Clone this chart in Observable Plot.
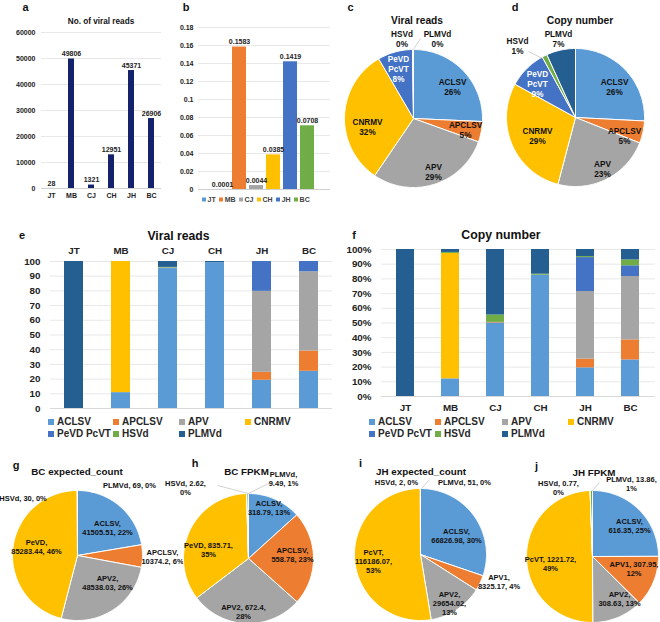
<!DOCTYPE html>
<html><head><meta charset="utf-8">
<script src="https://cdn.jsdelivr.net/npm/d3@7"></script>
<script src="https://cdn.jsdelivr.net/npm/@observablehq/plot@0.6"></script>
<style>
html,body{margin:0;padding:0;background:#fff;}
#fig{position:relative;width:660px;height:622px;overflow:hidden;background:#fff;font-family:"Liberation Sans",Arial,Helvetica,sans-serif;font-weight:bold;color:#111;}
.t{position:absolute;transform:translate(-50%,-50%);white-space:pre;line-height:1;}
.lg{position:absolute;display:flex;align-items:center;white-space:pre;line-height:1;transform:translateY(-50%);}
.sw{display:inline-block;}
</style></head><body><div id="fig"></div>
<script>
// ---------------- data ----------------
const samples = ["JT","MB","CJ","CH","JH","BC"];
const viralReads = [28, 49806, 1321, 12951, 45371, 26906];
const viralShare = [0.0001, 0.1583, 0.0044, 0.0385, 0.1419, 0.0708];
const sampleColors = ["#5b9bd5","#ed7d31","#a5a5a5","#ffc000","#4472c4","#70ad47"];

const viruses = ["ACLSV","APCLSV","APV","CNRMV","PeVD PcVT","HSVd","PLMVd"];
const virusColors = ["#5b9bd5","#ed7d31","#a5a5a5","#ffc000","#4472c4","#70ad47","#255e91"];
const readsPieShare = [25.7, 4.8, 29.0, 32.1, 8.2, 0.1, 0.1];
const copyPieShare = [25.8, 5.2, 23.1, 28.9, 9.0, 1.2, 6.8];

// stacked percentages, one row per virus (order of `viruses`), one column per sample
const readsStack = [
  [0, 10.8, 95.2, 99.2, 19.2, 25.3],
  [0, 0, 0, 0, 5.4, 13.8],
  [0, 0, 0.4, 0, 55.1, 53.9],
  [0, 89.2, 0, 0, 0, 0],
  [0, 0, 0, 0, 20.3, 7.0],
  [0, 0, 0.4, 0, 0, 0],
  [100, 0, 4.0, 0.8, 0, 0]
];
const copyStack = [
  [0, 12.0, 50.0, 82.5, 19.5, 24.9],
  [0, 0, 0.4, 0, 5.9, 13.6],
  [0, 0, 0, 0, 46.0, 43.1],
  [0, 85.3, 0, 0, 0, 0],
  [0, 0, 0, 0, 23.1, 7.3],
  [0, 0.7, 5.0, 0.7, 0.7, 4.0],
  [100, 2.0, 44.6, 16.8, 4.8, 7.1]
];

const pieColors = ["#5b9bd5","#ed7d31","#a5a5a5","#ffc000","#4472c4","#70ad47"];
const bcNames = ["ACLSV","APCLSV","APV2","PeVD","HSVd","PLMVd"];
const bcCountValues = [41505.51, 10374.2, 48538.03, 85283.44, 30, 69];
const bcCountPct = [22, 6, 26, 46, 0, 0];
const bcFpkmValues = [318.79, 558.78, 672.4, 835.71, 2.62, 9.49];
const bcFpkmPct = [13, 23, 28, 35, 0, 1];
const jhNames = ["ACLSV","APV1","APV2","PcVT","HSVd","PLMVd"];
const jhCountValues = [66826.98, 8325.17, 29654.02, 116186.07, 2, 51];
const jhCountPct = [30, 4, 13, 53, 0, 0];
const jhFpkmValues = [616.35, 307.95, 308.63, 1221.72, 0.77, 13.86];
const jhFpkmPct = [25, 12, 13, 49, 0, 1];

// ---------------- helpers ----------------
const FONT = '"Liberation Sans", Arial, Helvetica, sans-serif';
const fig = document.getElementById("fig");
function baseStyle(fs){ return {background:"transparent", overflow:"visible", fontFamily:FONT, fontSize:fs+"px", fontWeight:"bold", color:"#222"}; }
function place(el, left, top){ el.style.position="absolute"; el.style.left=left+"px"; el.style.top=top+"px"; fig.appendChild(el); return el; }
function txt(s, x, y, size){ const d=document.createElement("div"); d.className="t"; d.textContent=s; d.style.left=x+"px"; d.style.top=y+"px"; d.style.fontSize=size+"px"; fig.appendChild(d); }
function legendItem(name, color, x, y, fs, sq){
  const d=document.createElement("div"); d.className="lg"; d.style.left=x+"px"; d.style.top=y+"px"; d.style.fontSize=fs+"px"; d.style.color="#262626";
  const s=document.createElement("span"); s.className="sw"; s.style.width=sq+"px"; s.style.height=sq+"px"; s.style.background=color; s.style.marginRight=(sq*0.5)+"px";
  d.appendChild(s); d.appendChild(document.createTextNode(name)); fig.appendChild(d); return d;
}

// ---------------- panel a ----------------
const aData = samples.map((s,i)=>({sample:s, value:viralReads[i]}));
place(Plot.plot({
  width:170, height:210, marginLeft:41, marginRight:9, marginTop:32, marginBottom:22,
  style: baseStyle(7),
  x:{domain:samples, paddingInner:0.7, paddingOuter:0.35, label:null, tickSize:0, tickPadding:5},
  y:{domain:[0,60000], ticks:d3.range(0,60001,10000), tickFormat:d3.format("d"), grid:true, label:null, tickSize:0, tickPadding:6},
  marks:[
    Plot.ruleY([0],{stroke:"#d0d0d0"}),
    Plot.barY(aData,{x:"sample", y:"value", fill:"#13226b"}),
    Plot.text(aData,{x:"sample", y:"value", text:d=>String(d.value), dy:-5, fontSize:7, fontWeight:"bold", fill:"#222"})
  ]
}), 0, 0);

// ---------------- panel b ----------------
const bData = samples.map((s,i)=>({sample:s, value:viralShare[i]}));
place(Plot.plot({
  width:165, height:210, marginLeft:28, marginRight:5, marginTop:27, marginBottom:21,
  style: baseStyle(7),
  x:{domain:samples, axis:null, paddingInner:0.2, paddingOuter:0.85},
  y:{domain:[0,0.18], ticks:d3.range(10).map(i=>i*0.02), tickFormat:d=>d===0?"0":String(+d.toFixed(2)), grid:true, label:null, tickSize:0, tickPadding:5},
  color:{domain:samples, range:sampleColors},
  marks:[
    Plot.ruleY([0],{stroke:"#d0d0d0"}),
    Plot.barY(bData,{x:"sample", y:"value", fill:"sample"}),
    Plot.text(bData,{x:"sample", y:"value", text:d=>d3.format(".4f")(d.value), dy:-5, fontSize:7, fontWeight:"bold", fill:"#222"})
  ]
}), 170, 0);
{
  const d=document.createElement("div"); d.style.cssText="position:absolute;left:202px;top:199px;transform:translateY(-50%);display:flex;gap:3.5px;font-size:7px;color:#404040;line-height:1;";
  samples.forEach((s,i)=>{ const it=document.createElement("span"); it.style.cssText="display:flex;align-items:center;";
    const sq=document.createElement("span"); sq.style.cssText=`display:inline-block;width:4px;height:4px;margin-right:1.5px;background:${sampleColors[i]}`;
    it.appendChild(sq); it.appendChild(document.createTextNode(s)); d.appendChild(it); });
  fig.appendChild(d);
}

// ---------------- pies ----------------
function pie({cx, cy, r, names, values, colors, labels, leaders, fontSize}){
  const pad = 95;
  const total = d3.sum(values);
  const pts = [];
  let acc = 0;
  names.forEach((n,i)=>{
    const a0 = acc/total*2*Math.PI; acc += values[i]; const a1 = acc/total*2*Math.PI;
    const steps = Math.max(2, Math.ceil((a1-a0)/(Math.PI/180)));
    pts.push({name:n, x:0, y:0});
    for(let k=0;k<=steps;k++){ const a=a0+(a1-a0)*k/steps; pts.push({name:n, x:Math.sin(a), y:Math.cos(a)}); }
    pts.push({name:n, x:0, y:0});
  });
  const lab = labels.map(l=>({text:l.text, x:l.ox/r, y:-l.oy/r, color:l.color||"#111"}));
  const lead = (leaders||[]).map(([x1,y1,x2,y2])=>({x1:x1/r, y1:-y1/r, x2:x2/r, y2:-y2/r}));
  const w = 2*r+2*pad;
  place(Plot.plot({
    width:w, height:w, margin:0,
    style: baseStyle(fontSize),
    x:{domain:[-1,1], range:[pad, pad+2*r], axis:null},
    y:{domain:[-1,1], range:[pad+2*r, pad], axis:null},
    color:{domain:names, range:colors},
    marks:[
      Plot.line(pts,{x:"x", y:"y", z:"name", fill:"name", stroke:"white", strokeWidth:1, strokeLinejoin:"round"}),
      Plot.link(lead,{x1:"x1", y1:"y1", x2:"x2", y2:"y2", stroke:"#bfbfbf", strokeWidth:0.7}),
      Plot.text(lab,{x:"x", y:"y", text:"text", fill:"color", fontSize, fontWeight:"bold", lineAnchor:"middle", lineHeight:1.2})
    ]
  }), cx-r-pad, cy-r-pad);
}
function pctLabel(name, v, total){ return name.replace(" ","\n")+"\n"+Math.round(v/total*100)+"%"; }

// panel c
{
  const off = [[39,-32],[52,11.5],[20,53.5],[-46,8],[-15,-49.5],[-11.5,-80],[24,-80]];
  const tot = d3.sum(readsPieShare);
  pie({cx:413, cy:118, r:69, names:viruses, values:readsPieShare, colors:virusColors, fontSize:8.2,
    labels: viruses.map((n,i)=>({text:pctLabel(n, readsPieShare[i], tot), ox:off[i][0], oy:off[i][1], color: i===4?"#fff":"#111"})),
    leaders:[[0,-69,7,-80]]});
}
// panel d
{
  const off = [[39,-31],[49,18],[27,51],[-38,18],[-38,-33.5],[-58,-71.5],[-17,-78.5]];
  const tot = d3.sum(copyPieShare);
  pie({cx:575, cy:117, r:69, names:viruses, values:copyPieShare, colors:virusColors, fontSize:8.2,
    labels: viruses.map((n,i)=>({text:pctLabel(n, copyPieShare[i], tot), ox:off[i][0], oy:off[i][1], color: i===4?"#fff":"#111"})),
    leaders:[[-47,-66,-33,-59]]});
}
function valLabel(name, v, p, fmt){
  const a=name+",", b=String(v)+",", c=p+"%";
  return fmt===0 ? a+"\n"+String(v)+", "+c : fmt===1 ? a+" "+b+"\n"+c : fmt===2 ? a+"\n"+b+"\n"+c : a+" "+b+" "+c;
}
function valPie(cx, cy, r, names, values, pcts, layout, leaders){
  pie({cx, cy, r, names, values, colors:pieColors, fontSize:7.5,
    labels: names.map((n,i)=>({text:valLabel(n, values[i], pcts[i], layout[i][2]), ox:layout[i][0], oy:layout[i][1]})),
    leaders});
}
valPie(77, 555, 65, bcNames, bcCountValues, bcCountPct,
  [[30,-27.5,0],[85,1,0],[30,27,0],[-41,-9,0],[-54.5,-57,3],[52,-70,3]], []);
valPie(248, 558, 65, bcNames, bcFpkmValues, bcFpkmPct,
  [[20.5,-50.5,0],[44,-4,0],[-5,53.5,1],[-40,-9,1],[-63,-70.5,1],[35,-80,0]], [[-31,-73,0,-65],[0,-65,22,-76]]);
valPie(420, 554, 66, jhNames, jhCountValues, jhCountPct,
  [[36,-19,0],[78.5,27.5,0],[29,48.5,2],[-47,7,2],[-24,-72,3],[44,-72,3]], [[1,-66,9,-75]]);
valPie(592, 556, 66, jhNames, jhFpkmValues, jhFpkmPct,
  [[37,-31,0],[41.5,12,1],[27,42,0],[-42,7,1],[-34,-68.5,1],[39,-72.5,1]], [[0,-66,7,-74]]);

// ---------------- panels e, f ----------------
function stackData(rows){ const out=[]; viruses.forEach((v,i)=>samples.forEach((s,j)=>out.push({sample:s, virus:v, value:rows[i][j]}))); return out; }
place(Plot.plot({
  width:335, height:185, marginLeft:50, marginRight:3, marginTop:33, marginBottom:5,
  style: baseStyle(9.8),
  x:{domain:samples, axis:"top", paddingInner:0.6, paddingOuter:0.3, label:null, tickSize:0, tickPadding:8},
  y:{domain:[0,100], ticks:d3.range(0,101,10), grid:true, label:null, tickSize:0, tickPadding:10},
  color:{domain:viruses, range:virusColors},
  marks:[
    Plot.ruleY([0],{stroke:"#d9d9d9"}),
    Plot.barY(stackData(readsStack),{x:"sample", y:"value", fill:"virus"})
  ]
}), 0, 228);
place(Plot.plot({
  width:330, height:190, marginLeft:51, marginRight:5, marginTop:21, marginBottom:22,
  style: baseStyle(9.8),
  x:{domain:samples, paddingInner:0.6, paddingOuter:0.3, label:null, tickSize:0, tickPadding:8},
  y:{domain:[0,100], ticks:d3.range(0,101,10), tickFormat:d=>d+"%", grid:true, label:null, tickSize:0, tickPadding:10},
  color:{domain:viruses, range:virusColors},
  marks:[
    Plot.ruleY([0],{stroke:"#d9d9d9"}),
    Plot.barY(stackData(copyStack),{x:"sample", y:"value", fill:"virus"})
  ]
}), 330, 228);
// legends e, f
[[51,116,182,248],[372,438,505,571]].forEach(cols=>{
  viruses.forEach((v,i)=>{
    const row = i<4?0:1, col = i<4?i:i-4;
    legendItem(v, virusColors[i], cols[col]-3, row===0?422:434, 10, 6);
  });
});

// ---------------- titles & panel letters ----------------
txt("a", 25.5, 6.5, 11); txt("No. of viral reads", 101, 22, 8.2);
txt("b", 186, 6.5, 11);
txt("c", 350.5, 7, 11); txt("Viral reads", 417, 21, 10.2);
txt("d", 515, 6.5, 11); txt("Copy number", 580, 21, 10.3);
txt("e", 22, 234.5, 11); txt("Viral reads", 178.5, 235.5, 12.2);
txt("f", 354, 234.5, 11); txt("Copy number", 501, 235, 12.3);
txt("g", 16, 465, 11); txt("BC expected_count", 77, 472, 9.8);
txt("h", 195, 463, 11); txt("BC FPKM", 246.5, 472, 9.8);
txt("i", 360.5, 463, 11); txt("JH expected_count", 421, 471.5, 9.8);
txt("j", 536.5, 466, 11); txt("JH FPKM", 594, 472.5, 9.8);
</script></body></html>
